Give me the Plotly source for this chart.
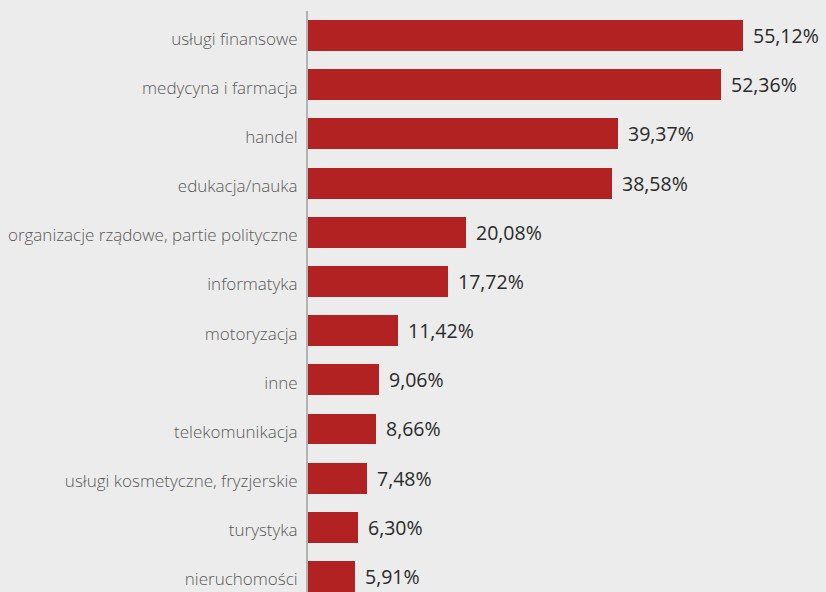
import plotly.graph_objects as go

categories = [
    "usługi finansowe",
    "medycyna i farmacja",
    "handel",
    "edukacja/nauka",
    "organizacje rządowe, partie polityczne",
    "informatyka",
    "motoryzacja",
    "inne",
    "telekomunikacja",
    "usługi kosmetyczne, fryzjerskie",
    "turystyka",
    "nieruchomości",
]
values = [55.12, 52.36, 39.37, 38.58, 20.08, 17.72, 11.42, 9.06, 8.66, 7.48, 6.30, 5.91]

labels = [f"{v:.2f}".replace(".", ",") + "%" for v in values]
positions = list(range(len(categories)))

BG = "#ececec"
BAR = "#b22222"

fig = go.Figure(
    go.Bar(
        x=values,
        y=positions,
        orientation="h",
        marker=dict(color=BAR, line=dict(width=0)),
        width=0.63,
        hoverinfo="skip",
    )
)

for v, p, t in zip(values, positions, labels):
    fig.add_annotation(
        x=v, y=p, text=t, showarrow=False,
        xanchor="left", yanchor="middle", xshift=8, yshift=0,
        font=dict(family="Open Sans", size=19.5, color="#2a2a2a"),
    )

fig.update_layout(
    width=826, height=592,
    margin=dict(l=308, r=0, t=11, b=0),
    paper_bgcolor=BG, plot_bgcolor=BG,
    showlegend=False,
    bargap=0,
)
fig.update_xaxes(
    range=[0, 65.7], visible=False, showgrid=False, zeroline=False,
)
fig.update_yaxes(
    range=[11.315, -0.5],
    tickmode="array", tickvals=positions, ticktext=categories,
    showgrid=False, zeroline=False,
    showline=True, linecolor="#b3b3b3", linewidth=2,
    ticks="", ticklabelstandoff=5, ticklabelshift=-3,
    tickfont=dict(family="Open Sans", size=17, color="#585858", weight=300),
)

fig.write_html("out.html")
